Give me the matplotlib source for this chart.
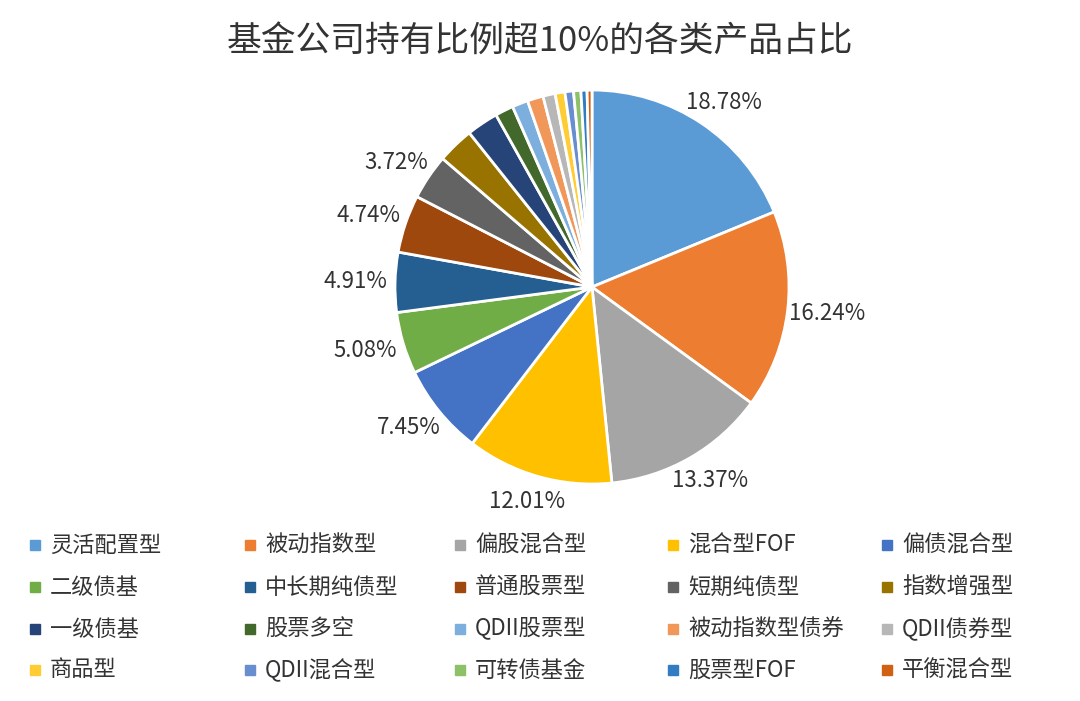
import numpy as np
import matplotlib.pyplot as plt
from matplotlib.patches import Rectangle

plt.rcParams['font.family'] = 'Noto Sans CJK SC'

categories = ['灵活配置型', '被动指数型', '偏股混合型', '混合型FOF', '偏债混合型',
              '二级债基', '中长期纯债型', '普通股票型', '短期纯债型', '指数增强型',
              '一级债基', '股票多空', 'QDII股票型', '被动指数型债券', 'QDII债券型',
              '商品型', 'QDII混合型', '可转债基金', '股票型FOF', '平衡混合型']
values = [18.78, 16.24, 13.37, 12.01, 7.45, 5.08, 4.91, 4.74, 3.72, 3.0,
          2.6, 1.5, 1.3, 1.3, 1.0, 0.8, 0.7, 0.6, 0.5, 0.4]
labeled = [18.78, 16.24, 13.37, 12.01, 7.45, 5.08, 4.91, 4.74, 3.72]
colors = ['#5B9BD5', '#ED7D31', '#A5A5A5', '#FFC000', '#4472C4', '#70AD47',
          '#255E91', '#9E480E', '#636363', '#997300', '#264478', '#43682B',
          '#7CAFDD', '#F1975A', '#B7B7B7', '#FFCD33', '#698ED0', '#8CC168',
          '#327DC2', '#D26012']

W, H = 1080, 701
fig = plt.figure(figsize=(W / 100, H / 100), dpi=100)
fig.text(0.5, 1 - 42 / H, '基金公司持有比例超10%的各类产品占比', ha='center', va='center',
         fontsize=25, color='#333333')

cx, cy, r = 592, 287, 197
ax = fig.add_axes([(cx - r) / W, 1 - (cy + r) / H, 2 * r / W, 2 * r / H])
wedges, _ = ax.pie(values, colors=colors, startangle=90, counterclock=False,
                   wedgeprops=dict(edgecolor='white', linewidth=2))
ax.set_xlim(-1, 1)
ax.set_ylim(-1, 1)
ax.set_aspect('equal')

total = sum(values)
start = 90.0
for i, v in enumerate(values):
    ang = start - v / total * 360 / 2
    start -= v / total * 360
    if i < len(labeled):
        a = np.deg2rad(ang)
        ax.text(1.2 * np.cos(a), 1.13 * np.sin(a), f'{labeled[i]:.2f}%',
                ha='center', va='center', fontsize=16, color='#333333')

# legend, row-major, 5 columns
col_x = [30, 245, 455, 668, 882]
row_y = [545, 587, 629, 670]
for i, (name, c) in enumerate(zip(categories, colors)):
    x, y = col_x[i % 5], row_y[i // 5]
    fig.patches.append(Rectangle(((x) / W, 1 - (y + 5) / H), 10 / W, 10 / H,
                                 transform=fig.transFigure, color=c))
    fig.text((x + 20) / W, 1 - y / H, name, ha='left', va='center',
             fontsize=16, color='#333333')

fig.savefig('out.png', dpi=100)
